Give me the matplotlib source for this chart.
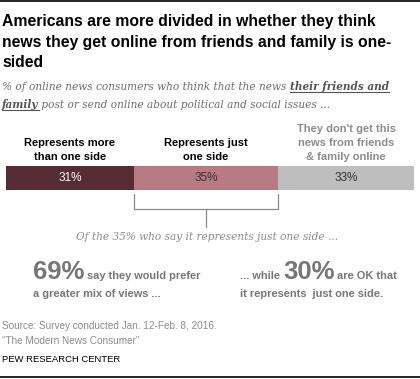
import matplotlib
matplotlib.use("Agg")
import matplotlib.pyplot as plt
import numpy as np

# data
categories = ["Represents more\nthan one side", "Represents just\none side",
              "They don't get this\nnews from friends\n& family online"]
values = [31, 35, 33]
bar_colors = ["#572d35", "#b97b83", "#bebebe"]
value_colors = ["white", "#333333", "#333333"]
label_colors = ["black", "black", "#8c8c8c"]
prefer_more = 69
ok_one_side = 30

W, H = 420, 379
fig = plt.figure(figsize=(W / 100, H / 100), dpi=100)
plt.rcParams['font.family'] = ['Liberation Sans', 'DejaVu Sans']


def fx(px):
    return px / W


def fy(py):
    return 1 - py / H


# top and bottom rules
fig.add_artist(plt.Line2D([0, 1], [fy(1), fy(1)], color="black", lw=1.2))
fig.add_artist(plt.Line2D([0, 1], [fy(377), fy(377)], color="black", lw=1.2))

title_lines = ["Americans are more divided in whether they think",
               "news they get online from friends and family is one-",
               "sided"]
for i, line in enumerate(title_lines):
    fig.text(fx(2), fy(26 + 20.5 * i), line, fontsize=11.3, fontweight="bold",
             va="baseline", ha="left")

# subtitle, with the bold underlined part
sub_kw = dict(fontsize=7.6, style="italic", family="DejaVu Serif", va="baseline")
renderer = fig.canvas.get_renderer()
t1 = fig.text(fx(2), fy(90), "% of online news consumers who think that the news ",
              color="#6d6d6d", **sub_kw)
bb = t1.get_window_extent(renderer)
t2 = fig.text(bb.x1 / W, fy(90), "their friends and",
              color="#555555", fontweight="bold", **sub_kw)
bb2 = t2.get_window_extent(renderer)
fig.add_artist(plt.Line2D([bb2.x0 / W, bb2.x1 / W], [fy(92), fy(92)], color="#555555", lw=0.8))
t3 = fig.text(fx(2), fy(108), "family", color="#555555", fontweight="bold", **sub_kw)
bb3 = t3.get_window_extent(renderer)
fig.add_artist(plt.Line2D([bb3.x0 / W, bb3.x1 / W], [fy(110), fy(110)], color="#555555", lw=0.8))
fig.text(bb3.x1 / W, fy(108), " post or send online about political and social issues ...",
         color="#6d6d6d", **sub_kw)

# stacked bar
ax = fig.add_axes([fx(6), fy(190), fx(414 - 6), 24 / H])
lefts = np.concatenate([[0], np.cumsum(values)[:-1]])
ax.barh([0], values, left=lefts, height=1, color=bar_colors, edgecolor="none")
ax.set_xlim(0, sum(values))
ax.set_ylim(-0.5, 0.5)
ax.axis("off")
for left, v, tc, cat, lc in zip(lefts, values, value_colors, categories, label_colors):
    ax.text(left + v / 2, 0, f"{v}%", color=tc, ha="center", va="center", fontsize=8.5)
    ax.text(left + v / 2, 1.18, cat, color=lc, ha="center", va="bottom",
            fontsize=8, fontweight="bold", linespacing=1.45,
            transform=ax.get_xaxis_transform())

# bracket under the middle segment
tr = ax.get_xaxis_transform()
x0, x1 = lefts[1], lefts[1] + values[1]
ax.plot([x0, x0, x1, x1], [-0.17, -0.79, -0.79, -0.17], color="#8c8c8c", lw=0.9,
        transform=tr, clip_on=False)
ax.plot([(x0 + x1) / 2] * 2, [-0.79, -1.55], color="#8c8c8c", lw=0.9,
        transform=tr, clip_on=False)

fig.text(fx(207), fy(237), f"Of the {values[1]}% who say it represents just one side ...",
         fontsize=7.6, style="italic", family="DejaVu Serif", color="#8c8c8c",
         ha="center", va="center")

# callouts
gray = "#777777"


def chain(x, y, parts):
    for s, size in parts:
        t = fig.text(x, y, s, fontsize=size, fontweight="bold", color=gray,
                     va="baseline", ha="left")
        x = t.get_window_extent(renderer).x1 / W


chain(fx(33), fy(279), [(f"{prefer_more}%", 18.5), (" say they would prefer", 7.9)])
chain(fx(33), fy(297), [("a greater mix of views ...", 7.9)])
chain(fx(240), fy(279), [("... while ", 7.9), (f"{ok_one_side}%", 18.5), (" are OK that", 7.9)])
chain(fx(240), fy(297), [("it represents  just one side.", 7.9)])

fig.text(fx(2), fy(329), "Source: Survey conducted Jan. 12-Feb. 8, 2016.",
         fontsize=7.2, color="#8c8c8c", va="baseline", ha="left")
fig.text(fx(2), fy(344), "\u201cThe Modern News Consumer\u201d",
         fontsize=7.2, color="#8c8c8c", va="baseline", ha="left")
fig.text(fx(2), fy(362), "PEW RESEARCH CENTER", fontsize=6.8, color="black",
         va="baseline", ha="left")

fig.savefig("out.png", dpi=100)
